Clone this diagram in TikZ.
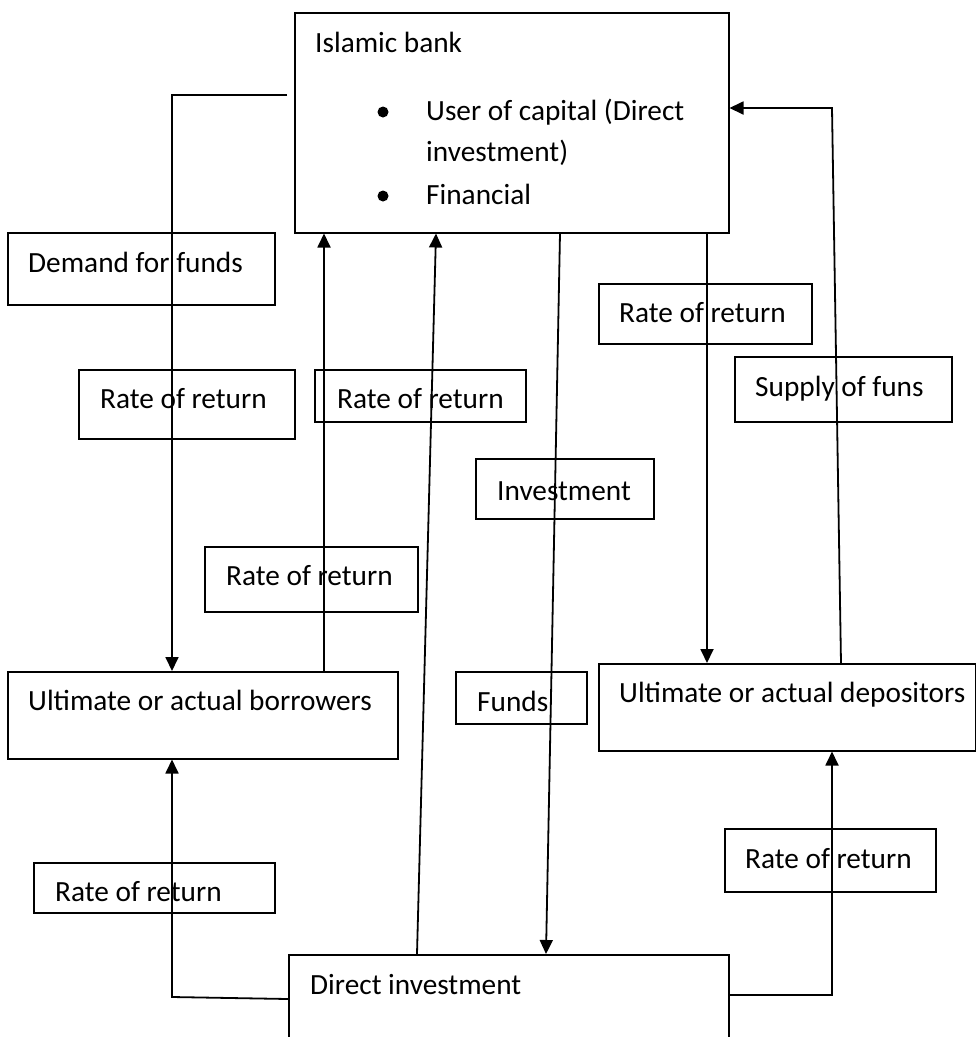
\documentclass[tikz,border=0pt]{standalone}
\usepackage{fontspec}
\setmainfont{Carlito}
\usetikzlibrary{arrows.meta}
\begin{document}
\begin{tikzpicture}[x=1pt,y=-1pt,
  box/.style={draw, line width=1.5pt, inner sep=0pt, anchor=north west},
  lbl/.style={anchor=base west, inner sep=0pt, font=\fontsize{29.3}{35}\selectfont},
  conn/.style={line width=1.8pt},
  arr/.style={conn, -{Triangle[length=14pt,width=13pt]}},
  bul/.style={circle, fill, inner sep=0pt, minimum size=11pt}]
\useasboundingbox (0,0) rectangle (976,1037);
\clip (0,0) rectangle (976,1037);

% boxes
\node[box, minimum width=434pt, minimum height=220pt] (bank) at (294,12) {};
\node[box, minimum width=267pt, minimum height=72pt] (demand) at (7,232) {};
\node[box, minimum width=216pt, minimum height=69pt] (rate1) at (78,369) {};
\node[box, minimum width=211pt, minimum height=52pt] (rate2) at (314,369) {};
\node[box, minimum width=213pt, minimum height=60pt] (rate3) at (598,283) {};
\node[box, minimum width=217pt, minimum height=65pt] (supply) at (734,356) {};
\node[box, minimum width=178pt, minimum height=60pt] (invest) at (475,458) {};
\node[box, minimum width=213pt, minimum height=65pt] (rate4) at (204,546) {};
\node[box, minimum width=390pt, minimum height=87pt] (borr) at (7,671) {};
\node[box, minimum width=131pt, minimum height=52pt] (funds) at (455,671) {};
\node[box, minimum width=377pt, minimum height=87pt] (dep) at (598,663) {};
\node[box, minimum width=241pt, minimum height=50pt] (rate5) at (33,862) {};
\node[box, minimum width=211pt, minimum height=63pt] (rate6) at (724,828) {};
\node[box, minimum width=440pt, minimum height=130pt] (direct) at (288,954) {};

% texts
\node[lbl] (bank-t) at (315,52) {Islamic bank};
\node[bul] (bul1) at (383,112) {};
\node[lbl] (bank-t1) at (426,120) {User of capital (Direct};
\node[lbl] (bank-t2) at (426,161) {investment)};
\node[bul] (bul2) at (383,196) {};
\node[lbl] (bank-t3) at (426,204) {Financial};
\node[lbl] (demand-t) at (28,272) {Demand for funds};
\node[lbl] (rate1-t) at (100,408) {Rate of return};
\node[lbl] (rate2-t) at (337,408) {Rate of return};
\node[lbl] (rate3-t) at (619,322) {Rate of return};
\node[lbl] (supply-t) at (755,396) {Supply of funs};
\node[lbl] (invest-t) at (497,500) {Investment};
\node[lbl] (rate4-t) at (226,585) {Rate of return};
\node[lbl] (borr-t) at (28,710) {Ultimate or actual borrowers};
\node[lbl] (funds-t) at (477,711) {Funds};
\node[lbl] (dep-t) at (619,702) {Ultimate or actual depositors};
\node[lbl] (rate5-t) at (55,901) {Rate of return};
\node[lbl] (rate6-t) at (745,868) {Rate of return};
\node[lbl] (direct-t) at (310,994) {Direct investment};

% helper coordinates
\coordinate (c1) at (287,95);
\coordinate (xL) at (172,0);
\coordinate (x324) at (324,0);
\coordinate (x417) at (417,0);
\coordinate (x436) at (436,0);
\coordinate (x560) at (560,0);
\coordinate (x546) at (546,0);
\coordinate (x707) at (707,0);
\coordinate (x841) at (841,0);
\coordinate (c6) at (832,108);
\coordinate (y999) at (0,999);
\coordinate (c7) at (172,997);
\coordinate (c8) at (832,995);

% connectors
\draw[arr] (c1) -- (c1 -| xL) -- (borr.north -| xL);
\draw[arr] (borr.north -| x324) -- (bank.south -| x324);
\draw[arr] (direct.north -| x417) -- (bank.south -| x436);
\draw[arr] (bank.south -| x560) -- (direct.north -| x546);
\draw[arr] (bank.south -| x707) -- (dep.north -| x707);
\draw[arr] (dep.north -| x841) -- (c6) -- (bank.east |- c6);
\draw[arr] (direct.west |- y999) -- (c7) -- (borr.south -| c7);
\draw[arr] (direct.east |- c8) -- (c8) -- (dep.south -| c8);
\end{tikzpicture}
\end{document}
